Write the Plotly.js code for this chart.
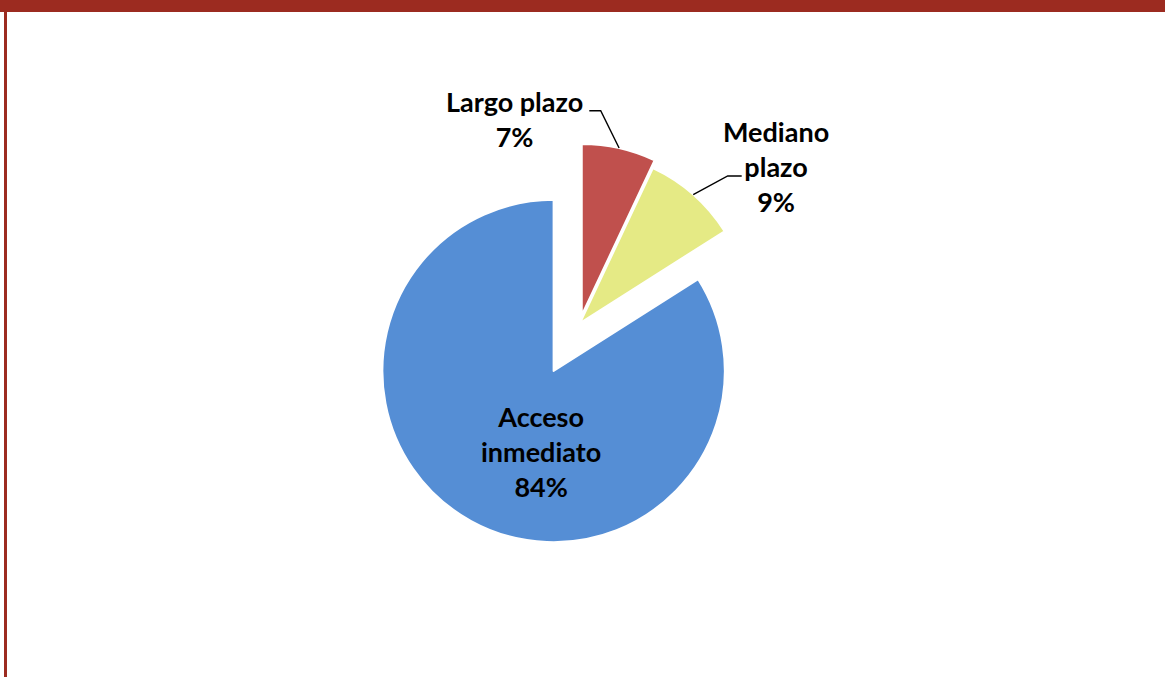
<!DOCTYPE html>
<html>
<head>
<meta charset="utf-8">
<script src="https://cdn.plot.ly/plotly-3.0.1.min.js"></script>
<style>
  html, body { margin: 0; padding: 0; background: #ffffff; }
  #wrap { position: relative; width: 1165px; height: 677px; overflow: hidden; background: #fff; }
  #topbar { position: absolute; left: 0; top: 0; width: 1165px; height: 12px; background: #9C2B20; }
  #leftbar { position: absolute; left: 4px; top: 12px; width: 3px; height: 665px; background: #9C2B20; }
  #chart { position: absolute; left: 0; top: 0; width: 1165px; height: 677px; }
</style>
</head>
<body>
<div id="wrap">
  <div id="chart"></div>
  <div id="topbar"></div>
  <div id="leftbar"></div>
</div>
<script>
// ---- data ----
var categories = ["Largo plazo", "Mediano plazo", "Acceso inmediato"];
var values = [7, 9, 84];
var labelLines = [["Largo plazo"], ["Mediano", "plazo"], ["Acceso", "inmediato"]];
var colors = ["#C0504D", "#E5EA85", "#558ED5"];
var pulls = [0.047, 0, 0.32];

// ---- geometry (layout) ----
var W = 1165, H = 677;
var cxPx = 580, cyPx = 323, halfPx = 226;
var domX = [(cxPx - halfPx) / W, (cxPx + halfPx) / W];
var domY = [1 - (cyPx + halfPx) / H, 1 - (cyPx - halfPx) / H];
var maxPull = Math.max.apply(null, pulls);
var rPx = halfPx / (1 + maxPull);

var total = values.reduce(function (a, b) { return a + b; }, 0);
function pct(v) { return Math.round(100 * v / total) + "%"; }

// slice edge point at mid-angle (clockwise from 12 o'clock)
function edgePoint(i) {
  var cum = 0;
  for (var k = 0; k < i; k++) cum += values[k];
  var a = 2 * Math.PI * (cum + values[i] / 2) / total;
  var d = rPx * (1 + pulls[i]);
  return [cxPx + d * Math.sin(a), cyPx - d * Math.cos(a)];
}
function px(x) { return x / W; }
function py(y) { return 1 - y / H; }

var font = { family: "Lato, 'Open Sans', sans-serif", size: 27, color: "#000000" };

// label boxes (centre, in px) and leader knee offsets (layout)
var labelPos = [
  { x: 514, y: 119, knee: [600.7, 110.7], end: [589.3, 110.7] },
  { x: 775.5, y: 167, knee: [727.7, 176], end: [741.7, 176] },
  { x: 541, y: 452 }
];

var annotations = [];
var shapes = [];
for (var i = 0; i < categories.length; i++) {
  var lines = labelLines[i].concat([pct(values[i])]);
  annotations.push({
    xref: "paper", yref: "paper",
    x: px(labelPos[i].x), y: py(labelPos[i].y),
    xanchor: "center", yanchor: "middle",
    text: "<b>" + lines.join("<br>") + "</b>",
    showarrow: false,
    font: font,
    align: "center"
  });
  if (labelPos[i].knee) {
    var e = edgePoint(i);
    shapes.push({
      type: "path", xref: "paper", yref: "paper",
      path: "M " + px(e[0]) + " " + py(e[1]) +
            " L " + px(labelPos[i].knee[0]) + " " + py(labelPos[i].knee[1]) +
            " L " + px(labelPos[i].end[0]) + " " + py(labelPos[i].end[1]),
      line: { color: "#000000", width: 1.4 }
    });
  }
}

var trace = {
  type: "pie",
  labels: categories,
  values: values,
  sort: false,
  direction: "clockwise",
  rotation: 0,
  pull: pulls,
  marker: { colors: colors, line: { color: "#ffffff", width: 2 } },
  textinfo: "none",
  hoverinfo: "label+percent",
  domain: { x: domX, y: domY },
  showlegend: false
};

var layout = {
  width: W, height: H,
  margin: { l: 0, r: 0, t: 0, b: 0 },
  paper_bgcolor: "rgba(0,0,0,0)",
  plot_bgcolor: "rgba(0,0,0,0)",
  showlegend: false,
  annotations: annotations,
  shapes: shapes
};

Plotly.newPlot("chart", [trace], layout, { displayModeBar: false, staticPlot: true });
</script>
</body>
</html>
